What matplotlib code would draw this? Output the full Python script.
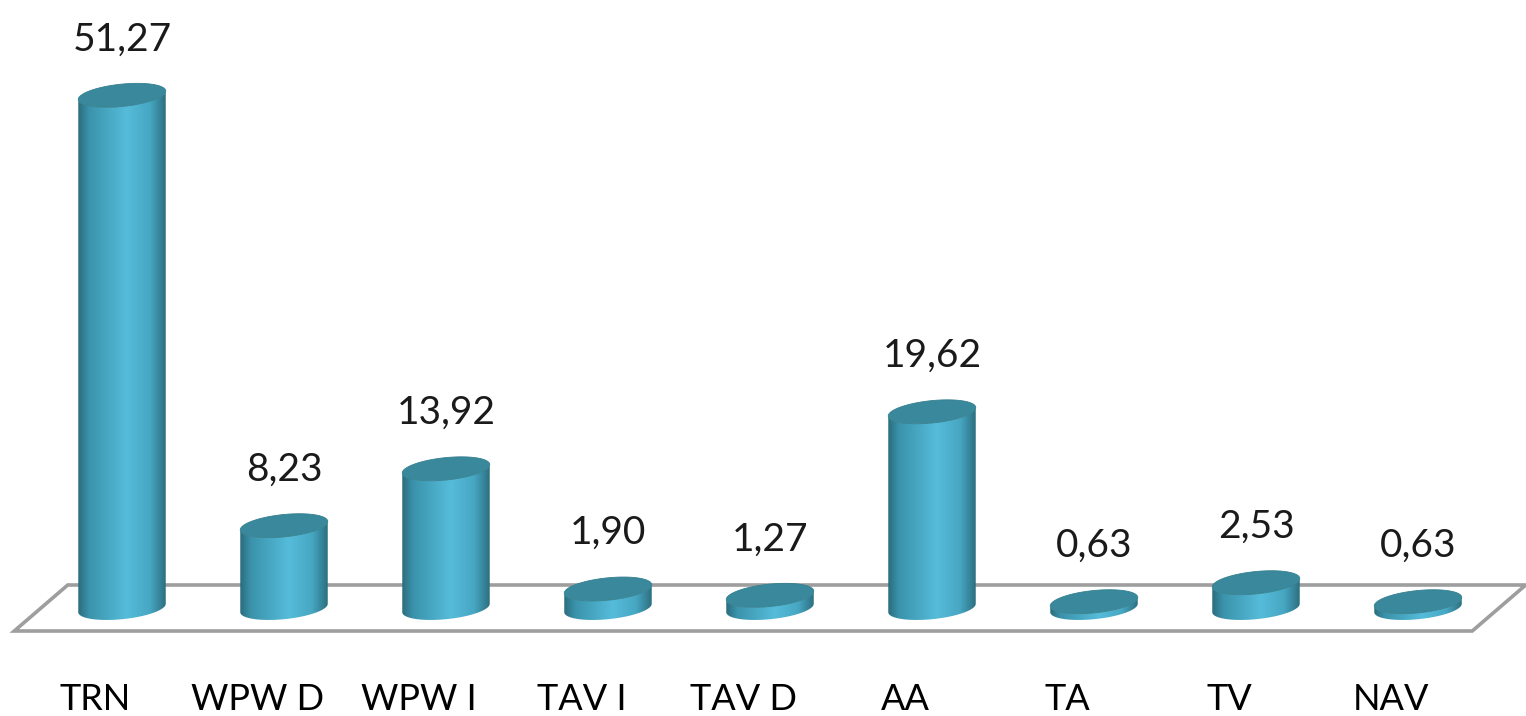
import matplotlib
matplotlib.use("Agg")
import matplotlib.pyplot as plt
import numpy as np
from matplotlib.colors import LinearSegmentedColormap
from matplotlib.patches import Polygon

plt.rcParams["font.family"] = ["Lato", "DejaVu Sans"]

categories = ["TRN", "WPW D", "WPW I", "TAV I", "TAV D", "AA", "TA", "TV", "NAV"]
values = [51.27, 8.23, 13.92, 1.90, 1.27, 19.62, 0.63, 2.53, 0.63]
value_labels = ["51,27", "8,23", "13,92", "1,90", "1,27", "19,62", "0,63", "2,53", "0,63"]

TEXT = "#1A1A1A"
FLOOR = "#9E9E9E"
CAP = "#3A889C"
BODY = LinearSegmentedColormap.from_list(
    "body",
    [(0.0, "#2B6C7D"), (0.12, "#3A92AA"), (0.55, "#55BCDA"), (0.82, "#47A7C3"), (1.0, "#2C6F80")],
)

# geometry (data units: one category = 1 in x, one value unit in y)
HALF_W = 0.27      # cylinder radius in x
ELL_B = 1.12       # ellipse semi-minor in y
SHEAR = 0.42       # tilt of the ellipses
DEPTH_X = 0.165    # floor depth offset in x
DEPTH_Y = 2.3      # floor depth offset in y


def ellipse(cx, cy, t):
    return cx + HALF_W * np.cos(t), cy + ELL_B * np.sin(t) + SHEAR * np.cos(t)


def draw_cylinder(ax, cx, h):
    t_front = np.linspace(np.pi, 2 * np.pi, 120)
    bx, by = ellipse(cx, 0, t_front)
    tx, ty = ellipse(cx, h, t_front[::-1])
    body = Polygon(np.column_stack([np.r_[bx, tx], np.r_[by, ty]]), closed=True,
                   facecolor="none", edgecolor="none", transform=ax.transData)
    ax.add_patch(body)
    grad = np.linspace(0, 1, 256).reshape(1, -1)
    im = ax.imshow(grad, cmap=BODY, aspect="auto", interpolation="bicubic",
                   extent=[cx - HALF_W, cx + HALF_W, by.min(), h + ELL_B + SHEAR],
                   zorder=3)
    im.set_clip_path(body)

    t_all = np.linspace(0, 2 * np.pi, 240)
    cx_, cy_ = ellipse(cx, h, t_all)
    ax.add_patch(Polygon(np.column_stack([cx_, cy_]), closed=True, facecolor=CAP,
                         edgecolor="#34808F", lw=0.6, zorder=4))


fig = plt.figure(figsize=(15.26, 7.16), dpi=100)
ax = fig.add_axes([0, 0, 1, 1])
ax.axis("off")

n = len(categories)
x = np.arange(n)

# floor
floor = Polygon(
    [(-0.5 + DEPTH_X, DEPTH_Y), (n - 0.5 + DEPTH_X, DEPTH_Y),
     (n - 0.5 - DEPTH_X, -DEPTH_Y), (-0.5 - DEPTH_X, -DEPTH_Y)],
    closed=True, facecolor="white", edgecolor=FLOOR, lw=2.6, zorder=1,
)
ax.add_patch(floor)

for xi, v, lab in zip(x, values, value_labels):
    draw_cylinder(ax, xi, v)
    ax.annotate(lab, (xi, v), xytext=(0, 56), textcoords="offset pixels",
                ha="center", va="center", fontsize=28, color=TEXT, zorder=5)

for xi, cat in zip(x, categories):
    ax.text(xi - DEPTH_X, -9.2, cat, ha="center", va="center", fontsize=26, color="#000000")

ax.set_xlim((0 - 122) / 162.0, (1526 - 122) / 162.0)
ax.set_ylim(-10.8, 60.8)

fig.savefig("out.png", dpi=100, facecolor="white")
